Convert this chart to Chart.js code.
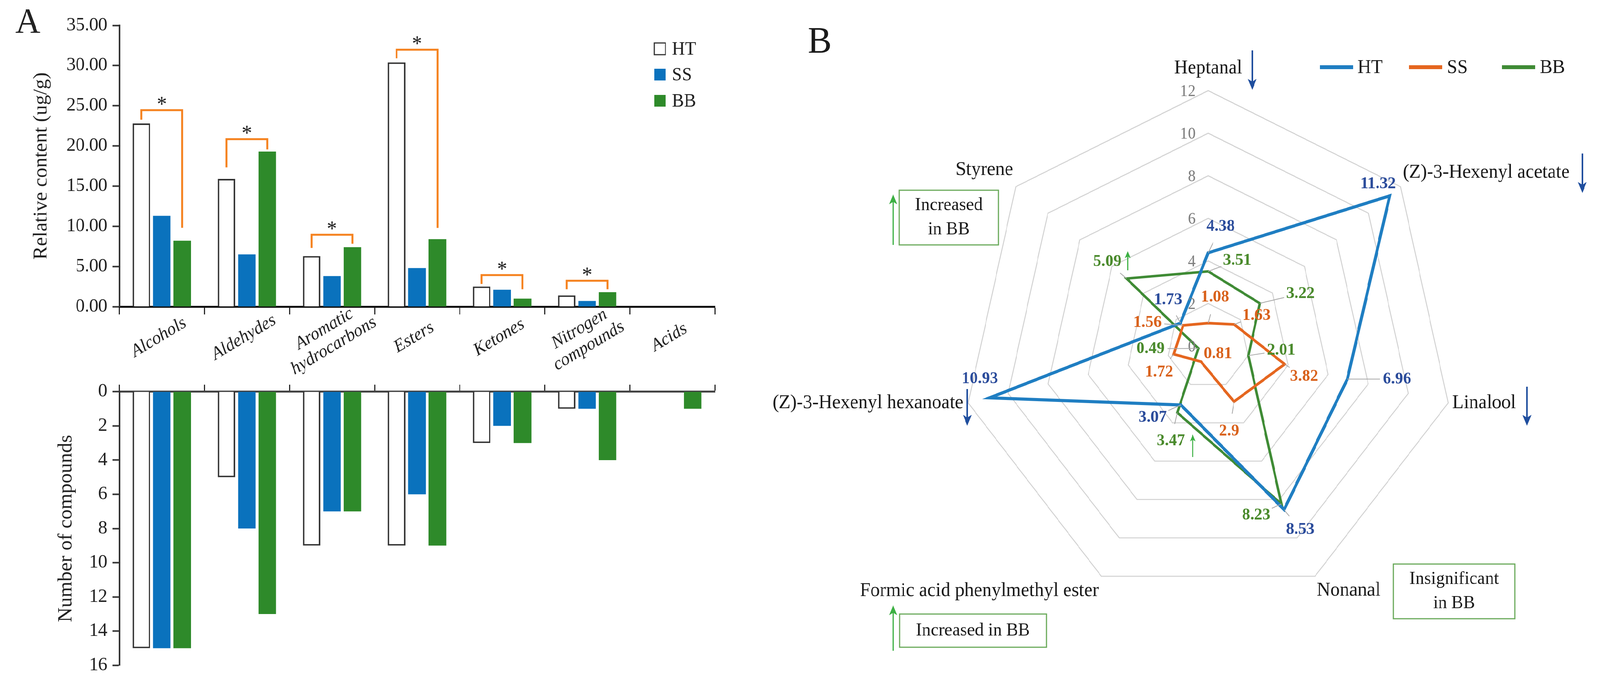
<!DOCTYPE html>
<html>
<head>
<meta charset="utf-8">
<script src="https://cdn.jsdelivr.net/npm/chart.js@4.4.1/dist/chart.umd.min.js"></script>
<style>
  html, body { margin: 0; padding: 0; background: #fff; overflow: hidden; }
  #stage { width: 4251px; height: 1746px; position: relative; transform-origin: 0 0; }
  canvas { position: absolute; }
</style>
</head>
<body>
<div id="stage">
  <canvas id="topBars" width="2000" height="990" style="left:0;top:0"></canvas>
  <canvas id="bottomBars" width="2000" height="786" style="left:0;top:960px"></canvas>
  <canvas id="radar" width="2261" height="1746" style="left:1990px;top:0"></canvas>
</div>
<script>
/* ---------- data: panel A ---------- */
const categories = ['Alcohols', 'Aldehydes', ['Aromatic', 'hydrocarbons'], 'Esters', 'Ketones', ['Nitrogen', 'compounds'], 'Acids'];
const seriesNames = ['HT', 'SS', 'BB'];

// relative content (ug/g)
const contentHT = [22.8, 15.9, 6.3, 30.4, 2.5, 1.4, 0];
const contentSS = [11.3, 6.5, 3.8, 4.8, 2.1, 0.7, 0];
const contentBB = [8.2, 19.3, 7.4, 8.4, 1.0, 1.8, 0];

// number of compounds
const countHT = [15, 5, 9, 9, 3, 1, 0];
const countSS = [15, 8, 7, 6, 2, 1, 0];
const countBB = [15, 13, 7, 9, 3, 4, 1];

// significance brackets HT vs BB (bracket top, end of left leg, end of right leg)
const sigTop = [24.45, 20.84, 8.94, 31.97, 3.93, 3.22];
const sigLeftEnd = [23.26, 17.33, 7.3, 30.9, 2.82, 2.16];
const sigRightEnd = [9.81, 19.57, 7.83, 9.8, 2.16, 2.16];

/* ---------- data: panel B ---------- */
const compounds = ['Heptanal', '(Z)-3-Hexenyl acetate', 'Linalool', 'Nonanal',
  'Formic acid phenylmethyl ester', '(Z)-3-Hexenyl hexanoate', 'Styrene'];
const radarHT = [4.38, 11.32, 6.96, 8.53, 3.07, 10.93, 1.73];
const radarSS = [1.08, 1.63, 3.82, 2.9, 0.81, 1.72, 1.56];
const radarBB = [3.51, 3.22, 2.01, 8.23, 3.47, 0.49, 5.09];

/* ---------- fit the 4251x1746 layout into the real viewport ---------- */
const stage = document.getElementById('stage');
stage.style.transform = 'scale(' + (window.innerWidth / 4251) + ',' + (window.innerHeight / 1746) + ')';

/* ---------- layout helpers (pixels) ---------- */
const serif = '"Liberation Serif", "Times New Roman", serif';
const HT_LINE = '#1f7ec2', SS_LINE = '#e5661f', BB_LINE = '#3f8b35';
const DOWN_BLUE = '#1f4e9e', UP_GREEN = '#3cb043', BOX_GREEN = '#6aaa5b';

// value label offsets from the data point
const offHT = [[33, -67], [-31, -30], [132, 0], [43, 51], [-75, 32], [-26, -49], [-33, -59]];
const offSS = [[18, -66], [59, -23], [52, 32], [-13, 75], [45, -20], [-39, 46], [-95, -7]];
const offBB = [[77, -28], [108, -25], [87, -13], [-67, 29], [-17, 73], [-127, 1], [-51, -43]];
// compound name offsets from the outer ring vertex
const nameOff = [[0, -57, 'center'], [6, -36, 'left'], [11, 0, 'left'], [5, 37, 'left'],
  [-7, 38, 'right'], [-13, 0, 'right'], [-7, -43, 'right']];

Chart.defaults.font.family = serif;
Chart.defaults.color = '#222';

function arrow(ctx, x, y1, y2, color, w, head) {
  const dir = Math.sign(y2 - y1);
  ctx.strokeStyle = color; ctx.fillStyle = color; ctx.lineWidth = w;
  ctx.beginPath(); ctx.moveTo(x, y1); ctx.lineTo(x, y2 - dir * head * 0.7); ctx.stroke();
  ctx.beginPath();
  ctx.moveTo(x, y2);
  ctx.lineTo(x - head * 0.42, y2 - dir * head);
  ctx.lineTo(x, y2 - dir * head * 0.75);
  ctx.lineTo(x + head * 0.42, y2 - dir * head);
  ctx.closePath(); ctx.fill();
}

/* ---------- panel A overlays ---------- */
const topOverlay = {
  id: 'topOverlay',
  afterDraw(chart) {
    const ctx = chart.ctx, xs = chart.scales.x, ys = chart.scales.y;
    ctx.save();

    // category names between the two bar charts
    ctx.font = 'italic 46px ' + serif;
    ctx.fillStyle = '#222'; ctx.textAlign = 'center'; ctx.textBaseline = 'middle';
    categories.forEach((c, i) => {
      const lines = Array.isArray(c) ? c : [c];
      ctx.save();
      ctx.translate(xs.getPixelForValue(i) - 8, 864);
      ctx.rotate(-Math.PI / 6);
      lines.forEach((t, k) => ctx.fillText(t, 0, (k - (lines.length - 1) / 2) * 50));
      ctx.restore();
    });

    // significance brackets
    const mHT = chart.getDatasetMeta(0), mBB = chart.getDatasetMeta(2);
    sigTop.forEach((top, i) => {
      const x1 = mHT.data[i].x, x2 = mBB.data[i].x, yt = ys.getPixelForValue(top);
      ctx.strokeStyle = '#f5821f'; ctx.lineWidth = 5; ctx.lineJoin = 'miter';
      ctx.beginPath();
      ctx.moveTo(x1, ys.getPixelForValue(sigLeftEnd[i]));
      ctx.lineTo(x1, yt); ctx.lineTo(x2, yt);
      ctx.lineTo(x2, ys.getPixelForValue(sigRightEnd[i]));
      ctx.stroke();
      ctx.fillStyle = '#222'; ctx.font = '54px ' + serif;
      ctx.textAlign = 'center'; ctx.textBaseline = 'alphabetic';
      ctx.fillText('*', (x1 + x2) / 2, yt + 2);
    });

    // legend
    const fills = ['#ffffff', '#0a72bd', '#2e8a2a'];
    const rows = [110, 176, 243];
    ctx.font = '48px ' + serif; ctx.textAlign = 'left'; ctx.textBaseline = 'middle';
    seriesNames.forEach((n, i) => {
      ctx.fillStyle = fills[i];
      ctx.fillRect(1738, rows[i], 30, 30);
      if (i === 0) { ctx.strokeStyle = '#333'; ctx.lineWidth = 3; ctx.strokeRect(1738, rows[i], 30, 30); }
      ctx.fillStyle = '#222';
      ctx.fillText(n, 1785, rows[i] + 17);
    });

    // panel letter
    ctx.font = '92px ' + serif; ctx.textBaseline = 'alphabetic';
    ctx.fillText('A', 41, 84);
    ctx.restore();
  }
};

const barStyle = [
  { backgroundColor: '#ffffff', borderColor: '#333333', borderWidth: 4 },
  { backgroundColor: '#0a72bd', borderWidth: 0 },
  { backgroundColor: '#2e8a2a', borderWidth: 0 }
];

function barDatasets(a, b, c) {
  return [a, b, c].map((d, i) => Object.assign({ label: seriesNames[i], data: d }, barStyle[i]));
}

function axisGrid(len) {
  return { drawOnChartArea: false, offset: true, tickLength: len, tickColor: '#2a2a2a', tickWidth: 3 };
}

new Chart(document.getElementById('topBars'), {
  type: 'bar',
  data: { labels: categories, datasets: barDatasets(contentHT, contentSS, contentBB) },
  options: {
    responsive: false, animation: false, devicePixelRatio: 1,
    categoryPercentage: 0.72, barPercentage: 0.86,
    layout: { padding: { left: 0, top: 65, right: 101, bottom: 0 } },
    plugins: { legend: { display: false }, tooltip: { enabled: false } },
    scales: {
      x: {
        ticks: { display: false },
        grid: axisGrid(20),
        border: { color: '#111', width: 5 },
        afterFit(s) { s.height = 205; }
      },
      y: {
        min: 0, max: 35,
        ticks: { stepSize: 5, padding: 14, font: { size: 48 }, callback: v => v.toFixed(2) },
        grid: { drawOnChartArea: false, tickLength: 18, tickColor: '#333', tickWidth: 4 },
        border: { color: '#333', width: 5 },
        title: { display: true, text: 'Relative content (ug/g)', font: { size: 52, lineHeight: 1 }, padding: { top: 84, bottom: 0 } },
        afterFit(s) { s.width = 317; }
      }
    }
  },
  plugins: [topOverlay]
});

new Chart(document.getElementById('bottomBars'), {
  type: 'bar',
  data: { labels: categories, datasets: barDatasets(countHT, countSS, countBB) },
  options: {
    responsive: false, animation: false, devicePixelRatio: 1,
    categoryPercentage: 0.72, barPercentage: 0.86,
    layout: { padding: { left: 0, top: 0, right: 101, bottom: 42 } },
    plugins: { legend: { display: false }, tooltip: { enabled: false } },
    scales: {
      x: {
        position: 'top',
        ticks: { display: false },
        grid: axisGrid(18),
        border: { color: '#444', width: 5 },
        afterFit(s) { s.height = 31; }
      },
      y: {
        reverse: true, min: 0, max: 16,
        ticks: { stepSize: 2, padding: 14, font: { size: 48 } },
        grid: { drawOnChartArea: false, tickLength: 18, tickColor: '#333', tickWidth: 4 },
        border: { color: '#333', width: 5 },
        title: { display: true, text: 'Number of compounds', font: { size: 52, lineHeight: 1 }, padding: { top: 150, bottom: 0 } },
        afterFit(s) { s.width = 317; }
      }
    }
  }
});

/* ---------- panel B overlays ---------- */
const radarOverlay = {
  id: 'radarOverlay',
  afterDraw(chart) {
    const ctx = chart.ctx, r = chart.scales.r, ox = 1990;
    ctx.save();

    // ring values
    ctx.font = '42px ' + serif; ctx.fillStyle = '#7f7f7f';
    ctx.textAlign = 'right'; ctx.textBaseline = 'middle';
    for (let v = 0; v <= 12; v += 2) {
      const p = r.getPointPositionForValue(0, v);
      ctx.fillText(String(v), r.xCenter - 33, p.y + 3);
    }

    // compound names
    ctx.font = '50px ' + serif; ctx.fillStyle = '#1a1a1a';
    compounds.forEach((name, i) => {
      const p = r.getPointPositionForValue(i, 12), o = nameOff[i];
      ctx.textAlign = o[2];
      ctx.fillText(name, p.x + o[0], p.y + o[1]);
    });

    // value labels with leader lines
    const sets = [[radarSS, offSS, '#d9621c'], [radarBB, offBB, '#4a8a2c'], [radarHT, offHT, '#2b4c9b']];
    sets.forEach(([vals, offs, col]) => {
      vals.forEach((v, i) => {
        const p = r.getPointPositionForValue(i, v), dx = offs[i][0], dy = offs[i][1];
        const d = Math.hypot(dx, dy);
        if (d > 60) {
          const k = (d - 45) / d;
          ctx.strokeStyle = '#a6a6a6'; ctx.lineWidth = 2;
          ctx.beginPath(); ctx.moveTo(p.x, p.y); ctx.lineTo(p.x + dx * k, p.y + dy * k); ctx.stroke();
        }
        ctx.font = 'bold 43px ' + serif; ctx.fillStyle = col;
        ctx.textAlign = 'center'; ctx.textBaseline = 'middle';
        ctx.fillText(String(v), p.x + dx, p.y + dy);
      });
    });

    // trend arrows
    [[3327, 129, 230], [4204, 393, 494], [4057, 990, 1090], [2570, 996, 1090]]
      .forEach(a => arrow(ctx, a[0] - ox, a[1], a[2], DOWN_BLUE, 4, 28));
    [[2373, 627, 497], [2373, 1666, 1549]]
      .forEach(a => arrow(ctx, a[0] - ox, a[1], a[2], UP_GREEN, 4, 26));
    [[2996, 692, 643], [3169, 1170, 1112]]
      .forEach(a => arrow(ctx, a[0] - ox, a[1], a[2], UP_GREEN, 3, 18));

    // note boxes
    const boxes = [
      [2389, 487, 264, 140, ['Increased', 'in BB']],
      [2390, 1572, 390, 85, ['Increased in BB']],
      [3702, 1444, 323, 140, ['Insignificant', 'in BB']]
    ];
    boxes.forEach(([bx, by, bw, bh, lines]) => {
      ctx.strokeStyle = BOX_GREEN; ctx.lineWidth = 3;
      ctx.strokeRect(bx - ox, by, bw, bh);
      ctx.fillStyle = '#1a1a1a'; ctx.font = '47px ' + serif;
      ctx.textAlign = 'center'; ctx.textBaseline = 'middle';
      lines.forEach((t, k) => ctx.fillText(t, bx - ox + bw / 2, by + bh / 2 + (k - (lines.length - 1) / 2) * 62));
    });

    // legend
    const legend = [[3507, HT_LINE], [3744, SS_LINE], [3991, BB_LINE]];
    ctx.font = '50px ' + serif; ctx.textAlign = 'left'; ctx.textBaseline = 'middle';
    legend.forEach(([lx, col], i) => {
      ctx.strokeStyle = col; ctx.lineWidth = 10; ctx.lineCap = 'butt';
      ctx.beginPath(); ctx.moveTo(lx - ox, 172); ctx.lineTo(lx - ox + 88, 172); ctx.stroke();
      ctx.fillStyle = '#1a1a1a';
      ctx.fillText(seriesNames[i], lx - ox + 100, 174);
    });

    // panel letter
    ctx.font = '95px ' + serif; ctx.textBaseline = 'alphabetic'; ctx.textAlign = 'left';
    ctx.fillText('B', 2146 - ox, 135);
    ctx.restore();
  }
};

new Chart(document.getElementById('radar'), {
  type: 'radar',
  data: {
    labels: compounds,
    datasets: [
      { label: 'HT', data: radarHT, borderColor: HT_LINE, borderWidth: 8 },
      { label: 'SS', data: radarSS, borderColor: SS_LINE, borderWidth: 7 },
      { label: 'BB', data: radarBB, borderColor: BB_LINE, borderWidth: 6.5 }
    ]
  },
  options: {
    responsive: false, animation: false, devicePixelRatio: 1,
    layout: { padding: { left: 566, top: 232, right: 387, bottom: 206 } },
    elements: { line: { tension: 0, fill: false, borderJoinStyle: 'miter' }, point: { radius: 0 } },
    plugins: { legend: { display: false }, tooltip: { enabled: false } },
    scales: {
      r: {
        min: 0, max: 12,
        ticks: { display: false, stepSize: 2 },
        grid: { color: '#d2d2d2', lineWidth: 2.5 },
        angleLines: { display: false },
        pointLabels: { display: false }
      }
    }
  },
  plugins: [radarOverlay]
});
</script>
</body>
</html>
